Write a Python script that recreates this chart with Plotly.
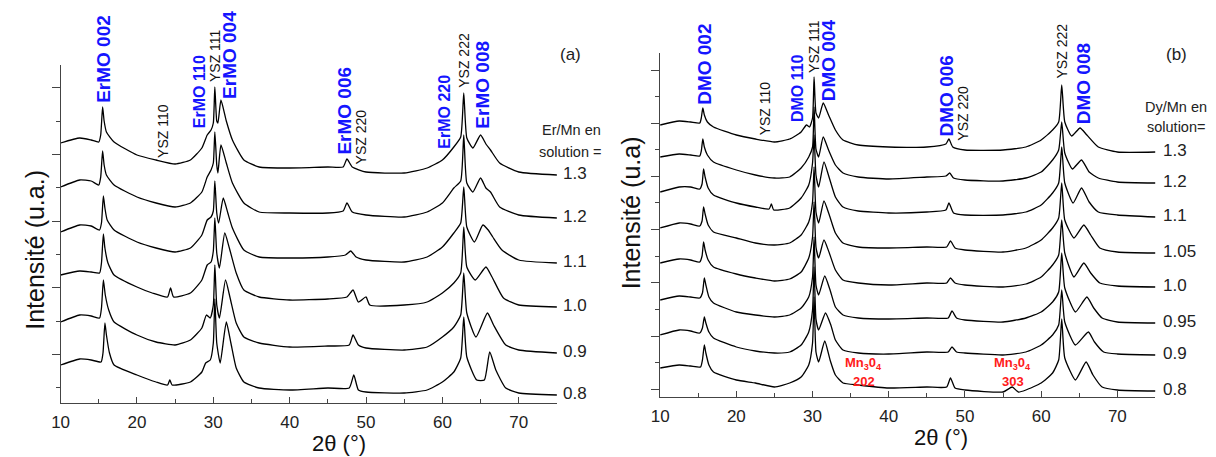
import plotly.graph_objects as go

FONT = "Arial, 'Liberation Sans', Helvetica, sans-serif"

# ---------------- panel (a): Er/Mn en solution ----------------
a_labels = ["1.3", "1.2", "1.1", "1.0", "0.9", "0.8"]

a13_x = [10, 12.5, 14, 15.0, 15.25, 15.5, 15.7, 16.0, 17, 20, 22.5, 25, 27, 28.5, 29.2, 29.7, 30.0, 30.2, 30.45, 30.6,
         31.0, 31.7, 32.5, 34, 36, 40, 45, 47.0, 47.5, 48.2, 50, 55, 58, 60, 61.5, 62.4, 62.8, 63.2, 64.0, 65.0, 65.7,
         66.3, 67.5, 70, 75]
a13_y = [260, 265, 263, 261, 268, 296, 282, 271, 261, 248, 243, 239, 243, 255, 268, 273, 280, 316, 282, 280,
         303, 282, 263, 243, 236, 235, 236, 236, 244, 236, 231, 230, 235, 243, 256, 266, 310, 265, 255, 268, 259,
         253, 240, 231, 228]

a12_x = a13_x
a12_y = [216, 223, 222, 218, 226, 252, 238, 228, 218, 206, 200, 196, 200, 211, 226, 233, 240, 271, 238, 230,
         258, 240, 220, 200, 191, 190, 190, 192, 200, 191, 188, 186, 191, 200, 215, 222, 268, 220, 211, 225, 215,
         211, 196, 188, 185]

a11_x = [10, 12.5, 14, 15.1, 15.35, 15.6, 15.8, 16.1, 17, 20, 22.5, 25, 27, 28.5, 29.2, 29.7, 30.0, 30.2, 30.45, 30.7,
         31.3, 31.9, 32.5, 34, 36, 40, 45, 47.3, 48.0, 48.7, 50, 55, 58, 60, 61.5, 62.4, 62.8, 63.2, 64.2, 65.3, 66.0,
         66.6, 67.8, 70, 75]
a11_y = [171, 178, 177, 173, 180, 207, 195, 183, 173, 161, 155, 151, 155, 168, 183, 186, 192, 222, 190, 180,
         205, 190, 175, 153, 146, 145, 146, 148, 152, 146, 143, 141, 146, 156, 170, 180, 216, 176, 161, 178, 173,
         166, 153, 143, 140]

a10_x = [10, 12.5, 14, 15.1, 15.35, 15.6, 15.8, 16.2, 17, 20, 22, 24.0, 24.4, 24.8, 27, 28.5, 29.2, 29.7, 30.0, 30.2,
         30.45, 30.8, 31.5, 32.1, 33, 34, 36, 40, 45, 47.5, 48.3, 49.0, 50.0, 50.5, 55, 58, 60, 61.5, 62.4, 62.8, 63.2,
         64.3, 65.7, 66.5, 68, 70, 75]
a10_y = [128, 132, 131, 130, 140, 169, 155, 140, 128, 116, 110, 106, 115, 106, 110, 123, 138, 141, 152, 185,
         150, 135, 170, 155, 130, 113, 106, 103, 104, 106, 113, 101, 106, 98, 98, 101, 110, 120, 130, 176, 136,
         123, 136, 126, 105, 98, 96]

a09_x = [10, 12.5, 14, 15.1, 15.35, 15.6, 15.85, 16.3, 17, 20, 22.5, 25, 27, 28.5, 29.1, 29.6, 30.0, 30.2, 30.45, 30.8,
         31.6, 32.2, 33, 34, 36, 40, 45, 47.8, 48.3, 49.0, 50, 55, 58, 60, 61.5, 62.4, 62.8, 63.2, 64.4, 65.9, 66.7,
         68.3, 70, 75]
a09_y = [81, 88, 87, 85, 95, 123, 108, 93, 81, 68, 61, 58, 63, 75, 88, 85, 98, 138, 98, 85,
         123, 105, 80, 66, 60, 56, 57, 58, 68, 58, 55, 53, 56, 66, 76, 88, 130, 90, 66, 90, 78,
         58, 53, 50]

a08_x = [10, 12.5, 14, 15.3, 15.55, 15.8, 16.0, 16.4, 17, 20, 22.5, 24.0, 24.3, 24.6, 27, 28.5, 29.0, 29.6, 30.0, 30.2,
         30.45, 30.9, 31.7, 32.3, 33, 34, 36, 40, 45, 47.8, 48.4, 49.0, 50, 55, 58, 60, 61.5, 62.4, 62.8, 63.2, 64.5,
         65.5, 66.2, 67.0, 68.3, 70, 75]
a08_y = [38, 44, 43, 41, 50, 80, 68, 50, 38, 28, 21, 18, 23, 18, 21, 31, 40, 43, 60, 104,
         60, 40, 81, 60, 35, 21, 15, 13, 15, 15, 28, 13, 11, 10, 13, 21, 31, 45, 86, 46, 23,
         23, 51, 33, 15, 10, 8]

# ---------------- panel (b): Dy/Mn en solution ----------------
b_labels = ["1.3", "1.2", "1.1", "1.05", "1.0", "0.95", "0.9", "0.8"]

b13_x = [10, 12.5, 14, 15.2, 15.4, 15.6, 15.8, 16.2, 17, 20, 22.5, 25, 27, 28.5, 29.2, 29.6, 30.0, 30.2, 30.45, 30.8,
         31.4, 32.1, 33, 34, 36, 40, 45, 47.5, 47.9, 48.4, 50, 55, 58, 60, 61.5, 62.3, 62.7, 63.1, 64.0, 65.1, 66.0,
         67.5, 70, 75]
b13_y = [272, 276, 275, 274, 279, 289, 282, 275, 270, 262, 258, 255, 258, 265, 272, 270, 279, 320, 284, 279,
         294, 282, 267, 257, 252, 250, 250, 253, 258, 250, 247, 247, 250, 257, 267, 275, 312, 275, 261, 269, 262,
         250, 245, 245]

b12_x = [10, 12.5, 14, 15.2, 15.4, 15.6, 15.8, 16.2, 17, 20, 22.5, 25, 27, 28.5, 29.5, 30.0, 30.2, 30.45, 30.8,
         31.4, 32.1, 33, 34, 36, 40, 45, 47.5, 48.0, 48.5, 50, 55, 58, 60, 61.5, 62.3, 62.7, 63.1, 64.1, 65.3, 66.3,
         67.5, 70, 75]
b12_y = [240, 243, 242, 241, 246, 258, 250, 242, 235, 227, 222, 219, 220, 229, 240, 250, 290, 248, 240,
         260, 247, 232, 224, 220, 218, 220, 221, 224, 219, 217, 216, 219, 225, 237, 247, 275, 244, 228, 237, 225,
         219, 215, 214]

b11_x = [10, 12.5, 14, 15.2, 15.5, 15.7, 15.9, 16.3, 17, 20, 22.5, 24.3, 24.6, 24.9, 27, 28.5, 29.5, 30.0, 30.2, 30.45,
         30.8, 31.5, 32.2, 33, 34, 36, 40, 45, 47.5, 47.9, 48.5, 50, 55, 58, 60, 61.5, 62.3, 62.7, 63.1, 64.2, 65.3,
         66.3, 67.5, 70, 75]
b11_y = [205, 210, 210, 208, 213, 228, 220, 209, 202, 194, 190, 188, 193, 187, 189, 199, 212, 234, 262, 222,
         210, 235, 219, 200, 190, 186, 184, 185, 187, 194, 184, 182, 182, 185, 192, 204, 214, 250, 214, 194, 209,
         195, 185, 182, 180]

b105_x = [10, 12.5, 14, 15.2, 15.5, 15.7, 15.9, 16.3, 17, 20, 22.5, 25, 27, 28.5, 29.5, 30.0, 30.2, 30.45, 30.8,
          31.5, 32.2, 33, 34, 36, 40, 45, 47.6, 48.1, 48.7, 50, 55, 58, 60, 61.5, 62.3, 62.7, 63.1, 64.3, 65.6, 66.5,
          67.7, 70, 75]
b105_y = [169, 174, 173, 171, 176, 190, 183, 172, 165, 159, 154, 152, 154, 162, 175, 195, 230, 185, 174,
          196, 182, 164, 154, 150, 149, 150, 150, 156, 149, 147, 145, 149, 157, 169, 179, 214, 177, 159, 172, 162,
          149, 145, 144]

b10_x = b105_x
b10_y = [134, 138, 137, 135, 141, 155, 147, 137, 130, 123, 119, 116, 118, 125, 139, 160, 195, 150, 139,
         157, 144, 127, 117, 114, 112, 114, 114, 119, 114, 112, 110, 113, 120, 132, 142, 177, 144, 120, 134, 124,
         114, 111, 110]

b095_x = [10, 12.5, 14, 15.2, 15.55, 15.8, 16.0, 16.4, 17, 20, 22.5, 25, 27, 28.5, 29.5, 30.0, 30.2, 30.45, 30.8,
          31.6, 32.3, 33, 34, 36, 40, 45, 47.8, 48.3, 48.9, 50, 55, 58, 60, 61.5, 62.3, 62.7, 63.1, 64.5, 66.0, 66.9,
          68, 70, 75]
b095_y = [97, 101, 100, 99, 104, 119, 112, 100, 94, 85, 82, 80, 82, 89, 100, 120, 160, 112, 102,
          121, 107, 90, 82, 79, 78, 79, 79, 86, 79, 77, 75, 79, 85, 95, 105, 144, 109, 85, 100, 89,
          79, 75, 74]

b09_x = [10, 12.5, 14, 15.2, 15.55, 15.8, 16.0, 16.4, 17, 20, 22.5, 25, 27, 28.5, 29.5, 30.0, 30.2, 30.45, 30.8,
         31.7, 32.4, 33, 34, 36, 40, 45, 47.8, 48.3, 48.9, 50, 55, 58, 60, 61.5, 62.3, 62.7, 63.1, 64.5, 66.2, 67.0,
         68.2, 70, 75]
b09_y = [62, 67, 66, 64, 69, 80, 74, 65, 59, 50, 46, 44, 45, 52, 65, 87, 130, 78, 67,
         84, 72, 57, 47, 44, 43, 45, 45, 50, 45, 44, 42, 45, 52, 62, 72, 107, 75, 52, 65, 55,
         45, 43, 42]

b08_x = [10, 12.5, 14, 15.3, 15.55, 15.8, 16.0, 16.4, 17, 20, 22.5, 25, 27, 28.5, 29.5, 30.0, 30.2, 30.45, 30.8,
         31.6, 32.3, 33, 34, 36, 40, 45, 47.6, 48.1, 48.7, 50, 55, 56.2, 57, 58, 60, 61.5, 62.3, 62.7, 63.1, 64.5,
         65.9, 66.8, 68, 70, 75]
b08_y = [29, 32, 31, 30, 37, 52, 44, 32, 25, 17, 14, 10, 14, 20, 32, 54, 100, 45, 35,
         56, 37, 22, 14, 12, 9, 10, 10, 19, 9, 7, 5, 10, 5, 7, 14, 24, 37, 78, 39, 17,
         35, 22, 10, 7, 6]

# axis ticks
x_major = [10, 20, 30, 40, 50, 60, 70]
x_minor = [15, 25, 35, 45, 55, 65, 75]
a_ymajor = [48.7, 115.3, 182.0, 248.7, 315.3]
a_yminor = [15.3, 82.0, 148.7, 215.3, 282.0]
b_ymajor = [8, 61, 114.5, 168, 221, 274, 327]
b_yminor = [34.5, 87.5, 141, 194.5, 247.5, 300.5]

# peak labels: (text, 2theta, kind)
a_peaks = [("ErMO 002", 15.53, "big"), ("YSZ 110", 23.4, "ysz"), ("ErMO 110", 28.14, "mid"),
           ("YSZ 111", 30.22, "ysz"), ("ErMO 004", 32.17, "big"), ("ErMO 006", 47.06, "big"),
           ("YSZ 220", 49.4, "ysz"), ("ErMO 220", 60.3, "mid"), ("YSZ 222", 62.8, "ysz"),
           ("ErMO 008", 65.27, "big")]
b_peaks = [("DMO 002", 15.73, "big"), ("YSZ 110", 23.8, "ysz"), ("DMO 110", 28.1, "mid"),
           ("YSZ 111", 30.18, "ysz"), ("DMO 004", 32.07, "big"), ("DMO 006", 47.7, "big"),
           ("YSZ 220", 49.7, "ysz"), ("YSZ 222", 62.8, "ysz"), ("DMO 008", 65.53, "big")]

W, H = 1216, 457
# vertical centre (pixels from top) of each rotated peak label
a_peak_py = [59, 131, 92, 56, 55, 111, 137, 112, 60, 85]
b_peak_py = [64, 108, 88, 46, 60, 96, 113, 51, 84]

a_series = [(a13_x, a13_y), (a12_x, a12_y), (a11_x, a11_y), (a10_x, a10_y), (a09_x, a09_y), (a08_x, a08_y)]
b_series = [(b13_x, b13_y), (b12_x, b12_y), (b11_x, b11_y), (b105_x, b105_y), (b10_x, b10_y),
            (b095_x, b095_y), (b09_x, b09_y), (b08_x, b08_y)]

fig = go.Figure()
LINE = dict(color="black", width=1.3, shape="spline", smoothing=0.5)
for xs, ys in a_series:
    fig.add_trace(go.Scatter(x=xs, y=ys, mode="lines", line=LINE,
                             xaxis="x", yaxis="y", showlegend=False, hoverinfo="skip"))
for xs, ys in b_series:
    fig.add_trace(go.Scatter(x=xs, y=ys, mode="lines", line=LINE,
                             xaxis="x2", yaxis="y2", showlegend=False, hoverinfo="skip"))

AX = "#444444"


def xaxis(domain, anchor):
    return dict(domain=domain, anchor=anchor, range=[10, 75], showline=True, linecolor=AX, linewidth=1,
                showgrid=False, zeroline=False, ticks="inside", ticklen=6, tickcolor=AX, tickwidth=1,
                tickvals=x_major, ticktext=[str(v) for v in x_major],
                tickfont=dict(family=FONT, size=17, color="#222"),
                minor=dict(tickvals=x_minor, ticks="inside", ticklen=4, tickcolor=AX, tickwidth=1),
                ticklabelstandoff=4)


def yaxis(domain, anchor, rng, major, minor):
    return dict(domain=domain, anchor=anchor, range=rng, showline=True, linecolor=AX, linewidth=1,
                showgrid=False, zeroline=False, ticks="outside", ticklen=8, tickcolor=AX, tickwidth=1,
                tickvals=major, showticklabels=False,
                minor=dict(tickvals=minor, ticks="outside", ticklen=4, tickcolor=AX, tickwidth=1))


fig.update_layout(
    width=W, height=H, margin=dict(l=0, r=0, t=0, b=0),
    paper_bgcolor="white", plot_bgcolor="white", showlegend=False,
    xaxis=xaxis([52 / W, 552 / W], "y"),
    yaxis=yaxis([1 - 403 / H, 1 - 65 / H], "x", [0, 338], a_ymajor, a_yminor),
    xaxis2=xaxis([656 / W, 1155 / W], "y2"),
    yaxis2=yaxis([1 - 397 / H, 1 - 53 / H], "x2", [0, 344], b_ymajor, b_yminor),
)

ann = []
STY = {"big": (19, "#1515ff", True), "mid": (16, "#1515ff", True), "ysz": (14, "#111", False)}


def peak_ann(peaks, pys, xr):
    for (txt, x, kind), py in zip(peaks, pys):
        size, col, bold = STY[kind]
        ann.append(dict(x=x, y=1 - py / H, xref=xr, yref="paper", text=f"<b>{txt}</b>" if bold else txt,
                        textangle=-90, showarrow=False, xanchor="center", yanchor="middle",
                        font=dict(family=FONT, size=size, color=col)))


peak_ann(a_peaks, a_peak_py, "x")
peak_ann(b_peaks, b_peak_py, "x2")

# series value labels at the right end of each pattern
for (xs, ys), lab in zip(a_series, a_labels):
    ann.append(dict(x=556 / W, y=ys[-1] + 2, xref="paper", yref="y", text=lab, showarrow=False,
                    xanchor="left", yanchor="middle", font=dict(family=FONT, size=17, color="#222")))
for (xs, ys), lab in zip(b_series, b_labels):
    ann.append(dict(x=1161 / W, y=ys[-1] + 2, xref="paper", yref="y2", text=lab, showarrow=False,
                    xanchor="left", yanchor="middle", font=dict(family=FONT, size=17, color="#222")))


def ptxt(px, py, text, size, anchor="left", color="#222", angle=0):
    ann.append(dict(x=px / W, y=1 - py / H, xref="paper", yref="paper", text=text, showarrow=False,
                    xanchor=anchor, yanchor="middle", textangle=angle,
                    font=dict(family=FONT, size=size, color=color)))


# headers and panel tags
ptxt(535, 130, "Er/Mn en", 14.5)
ptxt(532, 152, "solution =", 14.5)
ptxt(566, 54, "(a)", 17, "center")
ptxt(1142, 107, "Dy/Mn en", 14.5)
ptxt(1144, 127, "solution=", 14.5)
ptxt(1176, 55, "(b)", 17, "center")

# Mn3O4 labels (panel b)
red = dict(family=FONT, size=13, color="#ff1a1a")
for x, hkl in [(36.7, "202"), (56.2, "303")]:
    ann.append(dict(x=x, y=34, xref="x2", yref="y2", text="<b>Mn<sub>3</sub>0<sub>4</sub></b>", showarrow=False,
                    xanchor="center", yanchor="middle", font=red))
    ann.append(dict(x=x + 0.1, y=16, xref="x2", yref="y2", text=f"<b>{hkl}</b>", showarrow=False,
                    xanchor="center", yanchor="middle", font=red))

# axis titles
ptxt(332, 443, "2θ (°)", 22, "center", "#111")
ptxt(939, 437, "2θ (°)", 22, "center", "#111")
ptxt(26, 250, "Intensité (u.a.)", 25, "center", "#111", -90)
ptxt(627, 213, "Intensité (u.a)", 25, "center", "#111", -90)

fig.update_layout(annotations=ann)
fig.write_html("out.html", config={"displayModeBar": False},
               post_script="document.body.style.margin='0';document.body.style.overflow='hidden';")
